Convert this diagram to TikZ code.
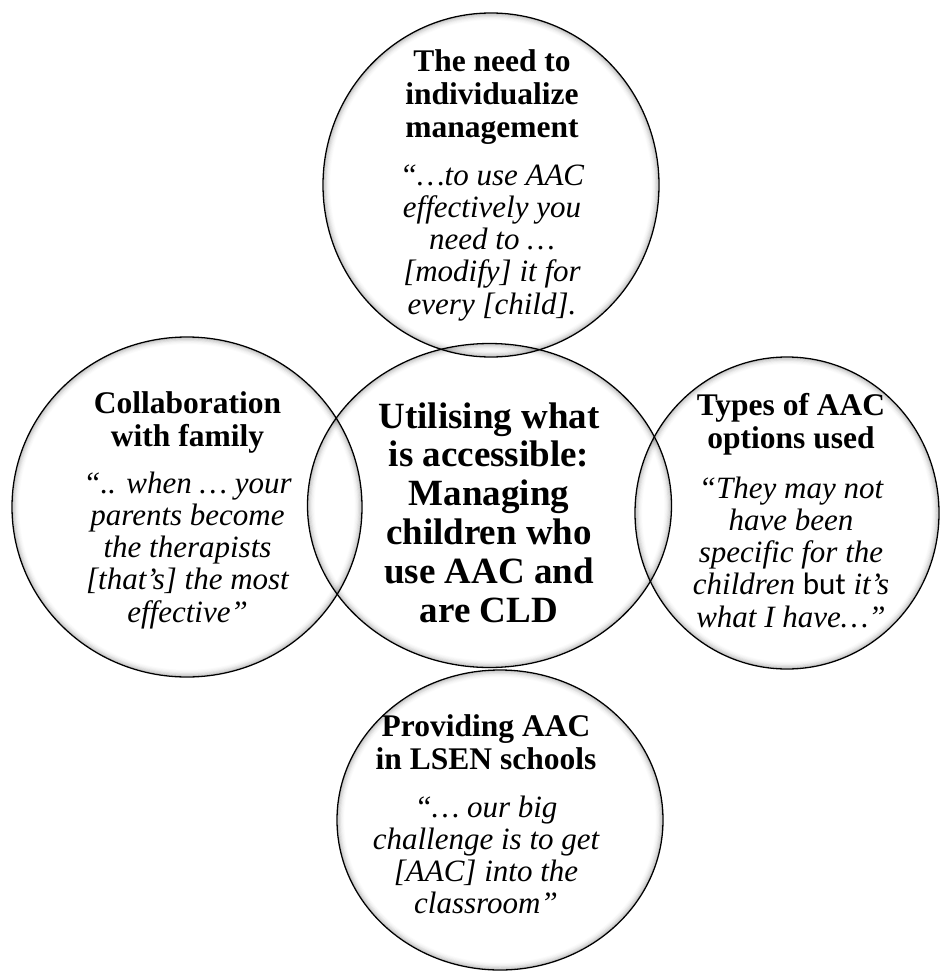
\documentclass[tikz,border=0pt]{standalone}
\usepackage{fontspec}
\setmainfont{Liberation Serif}
\newfontfamily\carlito{Carlito}

% An outlined ellipse with a soft grey glow just inside its rim.
% #1 = centre coordinate name, #2 = x radius (pt), #3 = y radius (pt)
\newcommand\softring[3]{%
  \foreach \k/\o in {1/0.20,2/0.14,3/0.10,4/0.06,5/0.035,6/0.015}{%
    \draw[black, opacity=\o, line width=1.1pt]
      (#1) ellipse [x radius={#2pt-\k*1.1pt}, y radius={#3pt-\k*1.1pt}];
  }%
  \draw[ringline] (#1) ellipse [x radius=#2pt, y radius=#3pt];
}

\begin{document}
\begin{tikzpicture}[x=1pt, y=-1pt,
  ringline/.style={draw=black, line width=1.3pt},
  headtxt/.style={anchor=base, inner sep=0pt,
    font=\bfseries\fontsize{31.5}{33}\selectfont},
  quotetxt/.style={anchor=base, inner sep=0pt,
    font=\itshape\fontsize{31}{32.3}\selectfont},
  coretxt/.style={anchor=base, inner sep=0pt,
    font=\bfseries\fontsize{37}{38.8}\selectfont},
]
\useasboundingbox[fill=white] (0,0) rectangle (939,971);

% circle centres
\coordinate (ctop)    at (491,185);
\coordinate (cleft)   at (187,507);
\coordinate (cright)  at (787,513);
\coordinate (cbottom) at (500,820);
\coordinate (ccore)   at (489.5,505.5);

% the five overlapping rings
\softring{ctop}{168}{172}
\softring{cleft}{175}{170}
\softring{cright}{152}{156}
\softring{cbottom}{163}{150}
\softring{ccore}{182}{162}

% top: individualised management
\node[headtxt] (toph) at (492,72)
  {\begin{tabular}[t]{@{}c@{}}The need to\\individualize\\management\end{tabular}};
\node[quotetxt] (topq) at (492,185)
  {\begin{tabular}[t]{@{}c@{}}“…to use AAC\\effectively you\\need to …\\{[modify] it for}\\every [child].\end{tabular}};

% left: family collaboration
\node[headtxt] (lefth) at (187.5,413)
  {\begin{tabular}[t]{@{}c@{}}Collaboration\\with family\end{tabular}};
\node[quotetxt] (leftq) at (187.5,493)
  {\begin{tabular}[t]{@{}c@{}}“.. when … your\\parents become\\the therapists\\{[that’s] the most}\\effective”\end{tabular}};

% right: AAC options
\node[headtxt] (righth) at (791,415)
  {\begin{tabular}[t]{@{}c@{}}Types of AAC\\options used\end{tabular}};
\node[quotetxt] (rightq) at (791,498)
  {\begin{tabular}[t]{@{}c@{}}“They may not\\have been\\specific for the\\children {\upshape\carlito but} it’s\\what I have…”\end{tabular}};

% bottom: LSEN schools
\node[headtxt] (bottomh) at (486,736)
  {\begin{tabular}[t]{@{}c@{}}Providing AAC\\in LSEN schools\end{tabular}};
\node[quotetxt] (bottomq) at (486,817)
  {\begin{tabular}[t]{@{}c@{}}“… our big\\challenge is to get\\{[AAC] into the}\\classroom”\end{tabular}};

% centre theme
\node[coretxt] (core) at (489,428)
  {\begin{tabular}[t]{@{}c@{}}Utilising what\\is accessible:\\Managing\\children who\\use AAC and\\are CLD\end{tabular}};
\end{tikzpicture}
\end{document}
